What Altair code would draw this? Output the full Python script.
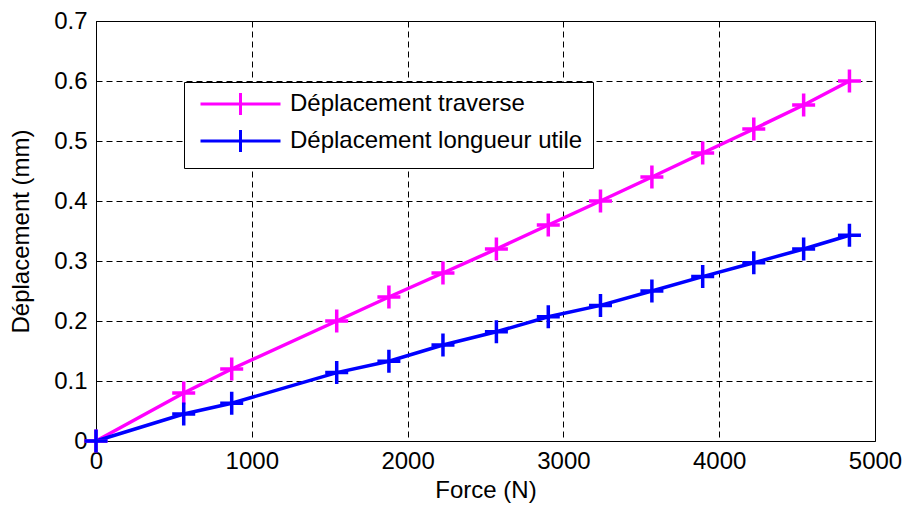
import altair as alt
import pandas as pd

force = [0, 563, 871, 1545, 1880, 2227, 2570, 2903, 3238, 3568, 3894, 4222, 4542, 4836]
traverse = [0, 0.08, 0.12, 0.20, 0.24, 0.28, 0.32, 0.36, 0.40, 0.44, 0.48, 0.52, 0.56, 0.60]
utile = [0, 0.045, 0.063, 0.114, 0.133, 0.160, 0.182, 0.207, 0.226, 0.250, 0.274, 0.297, 0.320, 0.343]
series_names = ["Déplacement traverse", "Déplacement longueur utile"]
series_colors = ["#FF00FF", "#0000FF"]
x_ticks = [0, 1000, 2000, 3000, 4000, 5000]
y_ticks = [0, 0.1, 0.2, 0.3, 0.4, 0.5, 0.6, 0.7]

rows = []
for i, (vals, name) in enumerate(zip([traverse, utile], series_names)):
    for f, v in zip(force, vals):
        rows.append({"force": f, "dep": v, "serie": name, "ord": i})
df = pd.DataFrame(rows)

FONT = "Liberation Sans"
FS = 24

color = alt.Color(
    "serie:N",
    scale=alt.Scale(domain=series_names, range=series_colors),
    legend=alt.Legend(
        title=None,
        orient="none",
        legendX=88,
        legendY=61,
        symbolType="M-0.55,0H7.45M3.45,-1.1V1.1",
        symbolSize=400,
        symbolStrokeWidth=3,
        symbolFillColor="transparent",
        labelFontSize=FS,
        labelFont=FONT,
        labelColor="black",
        labelOffset=72,
        labelLimit=0,
        rowPadding=3,
        padding=10,
        strokeColor="black",
        fillColor="white",
    ),
)

x = alt.X("force:Q", title="Force (N)",
          scale=alt.Scale(domain=[0, 5000], nice=False),
          axis=alt.Axis(values=x_ticks, format="d"))
y = alt.Y("dep:Q", title="Déplacement (mm)",
          scale=alt.Scale(domain=[0, 0.7], nice=False),
          axis=alt.Axis(values=y_ticks, labelExpr="datum.value == 0 ? '0' : format(datum.value, '.1f')"))

base = alt.Chart(df)
lines = base.mark_line(strokeWidth=3.5).encode(x=x, y=y, color=color, detail="serie:N", order="force:Q")
points = base.mark_point(
    shape="M-1,0H1M0,-1V1", size=529, filled=False, strokeWidth=3.5, opacity=1
).encode(x=x, y=y, color=alt.Color("serie:N", scale=alt.Scale(domain=series_names, range=series_colors), legend=None))

chart = alt.layer(lines, points).properties(
    width=779,
    height=420,
    autosize=alt.AutoSizeParams(type="none"),
    padding={"left": 88, "top": 13, "right": 28, "bottom": 65},
).configure_view(
    stroke="black", strokeWidth=1
).configure_axis(
    labelFont=FONT, titleFont=FONT, labelFontSize=FS, titleFontSize=FS,
    labelColor="black", titleColor="black", titleFontWeight="normal",
    domainColor="black", domainWidth=1, labelFlush=False,
    grid=True, gridColor="black", gridDash=[6, 4], gridWidth=1, gridOpacity=1,
    tickSize=0, labelPadding=9,
).configure_axisX(
    titlePadding=5, labelPadding=8,
).configure_axisY(
    titlePadding=20,
)

chart.save("out.html", embed_options={"renderer": "svg", "actions": False})
